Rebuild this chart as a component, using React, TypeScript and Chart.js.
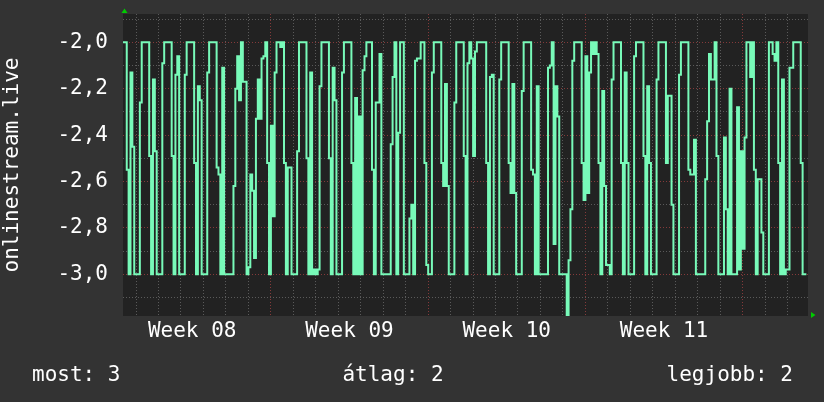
import React, { useEffect, useRef } from "react";
import { Chart, registerables } from "chart.js";

Chart.register(...registerables);

// ---- data ----
const SERIES_NAME = "onlinestream.live";
const START_DAY = 0.42; // first sample (days, week 08 starts at day 0)
const STEP_DAY = 1 / 12; // 2-hour samples
const X_MIN = 0.42;
const X_MAX = 30.91;
const Y_MIN = -3.18;
const Y_MAX = -1.878;
const WEEK_LABELS = ["Week 08", "Week 09", "Week 10", "Week 11"];
const WEEK_LABEL_DAYS = [3.5, 10.5, 17.5, 24.5];
const WEEK_START_DAYS = [7, 14, 21, 28];
const Y_GRID = [-3.1, -3.0, -2.9, -2.8, -2.7, -2.6, -2.5, -2.4, -2.3, -2.2, -2.1, -2.0, -1.9];
const Y_LABEL_VALUES = [-3.0, -2.8, -2.6, -2.4, -2.2, -2.0];
const LEGEND_ITEMS = ["most: 3", "átlag: 2", "legjobb: 2"];

const VALUES = [
  -2.0, -2.0, -2.0, -2.55, -3.0, -2.13, -2.45, -3.0, -3.0, -3.0,
  -2.26, -2.0, -2.0, -2.0, -2.0, -2.49, -3.0, -2.16, -2.47, -3.0,
  -3.0, -3.0, -2.09, -2.0, -2.0, -2.0, -2.0, -2.49, -3.0, -2.14,
  -2.06, -3.0, -3.0, -3.0, -2.14, -2.0, -2.0, -2.0, -2.0, -2.52,
  -3.0, -2.19, -2.25, -3.0, -3.0, -3.0, -2.13, -2.0, -2.0, -2.0,
  -2.0, -2.54, -2.57, -3.0, -2.11, -3.0, -3.0, -3.0, -3.0, -3.0,
  -2.62, -2.2, -2.06, -2.25, -2.0, -2.17, -2.17, -3.0, -2.97, -2.57,
  -2.64, -2.93, -2.33, -2.16, -2.33, -2.07, -2.06, -2.0, -2.52, -3.0,
  -2.36, -2.75, -2.13, -2.0, -2.0, -2.02, -2.0, -2.52, -3.0, -2.54,
  -2.54, -3.0, -3.0, -3.0, -2.47, -2.0, -2.0, -2.0, -2.0, -2.5,
  -3.0, -2.13, -3.0, -2.98, -3.0, -2.98, -2.19, -2.0, -2.0, -2.0,
  -2.0, -2.5, -3.0, -2.11, -2.25, -3.0, -3.0, -3.0, -2.13, -2.0,
  -2.0, -2.0, -2.0, -2.52, -3.0, -2.24, -3.0, -2.32, -3.0, -2.12,
  -2.06, -2.0,
  -2.0, -2.0, -2.55, -3.0, -2.26, -2.26, -2.05, -3.0,
  -3.0, -3.0, -3.0, -3.0, -2.44, -2.15, -2.0, -3.0, -2.39, -2.0,
  -2.0, -3.0, -3.0, -3.0, -2.76, -2.7, -3.0, -2.08, -2.07, -2.07,
  -2.0, -2.0, -2.52, -2.96, -3.0, -3.0, -2.13, -2.0, -2.0, -2.0,
  -2.0, -2.52, -2.62, -2.18, -2.62, -3.0, -3.0, -3.0, -2.26, -2.0,
  -2.0, -2.0, -2.0, -2.49, -3.0, -2.09, -2.0, -2.07, -2.49, -2.04,
  -2.0, -2.0, -2.0, -2.0, -2.0, -2.52, -3.0, -2.15, -2.14, -3.0,
  -3.0, -3.0, -2.16, -2.0, -2.0, -2.0, -2.0, -2.52, -2.65, -2.18,
  -2.65, -3.0, -3.0, -3.0, -2.21, -2.0, -2.0, -2.0, -2.0, -2.55,
  -2.57, -3.0, -2.19, -3.0, -3.0, -3.0, -3.0, -3.0, -2.11, -2.1,
  -2.0, -2.87, -2.19, -2.32, -3.0, -3.0, -3.0, -3.0, -3.2, -2.94,
  -2.72, -2.08, -2.0, -2.0, -2.0, -2.0, -2.52, -2.68, -2.06, -2.65,
  -2.13, -2.0, -2.05, -2.0, -2.05, -2.52, -3.0, -2.21, -2.62, -2.96,
  -2.96, -3.0, -2.16, -2.0, -2.0,
  -2.0, -2.0, -2.52, -3.0, -2.13,
  -2.52, -3.0, -3.0, -3.0, -2.06, -2.0, -2.0, -2.0, -2.0, -2.49,
  -3.0, -2.19, -2.52, -3.0, -3.0, -3.0, -2.16, -2.0, -2.0, -2.0,
  -2.0, -2.52, -2.23, -2.23, -2.7, -3.0, -3.0, -3.0, -2.14, -2.0,
  -2.0, -2.0, -2.0, -2.55, -2.57, -2.57, -2.42, -3.0, -3.0, -3.0,
  -3.0, -3.0, -2.59, -2.34, -2.05, -2.16, -2.16, -2.0, -2.49, -3.0,
  -3.0, -3.0, -2.41, -2.72, -3.0, -2.2, -3.0, -3.0, -3.0, -2.28,
  -2.98, -2.47, -2.89, -2.41, -2.0, -2.0, -2.15, -2.0, -2.55, -3.0,
  -2.59, -2.59, -2.82, -3.0, -3.0, -3.0, -2.0, -2.0, -2.05, -2.08,
  -2.0, -2.52, -3.0, -2.16, -3.0, -2.98, -2.98, -2.11, -2.11, -2.0,
  -2.0, -2.0, -2.0, -2.52, -3.0, -3.0,
];

// ---- styles ----
const FONT = { family: '"DejaVu Sans Mono", monospace', size: 21 };
const TEXT = "#ffffff";
const LINE = "#78fab9";
const GRID_GRAY = "#5a5a5a";
const GRID_RED = "#843a3a";
const PLOT_BG = "#222222";
const PAGE_BG = "#333333";
const ARROW = "#00cc00";

const isClose = (a: number, b: number) => Math.abs(a - b) < 1e-6;

const decorPlugin = {
  id: "decor",
  beforeDraw(chart: any) {
    const { ctx, chartArea } = chart;
    ctx.save();
    ctx.fillStyle = PAGE_BG;
    ctx.fillRect(0, 0, chart.width, chart.height);
    ctx.fillStyle = PLOT_BG;
    ctx.fillRect(chartArea.left, chartArea.top, chartArea.right - chartArea.left, chartArea.bottom - chartArea.top);
    ctx.restore();
  },
  afterDraw(chart: any) {
    const { ctx, chartArea } = chart;
    ctx.save();
    // arrows
    ctx.fillStyle = ARROW;
    const ax = chartArea.left + 1.5;
    ctx.beginPath();
    ctx.moveTo(ax - 3, chartArea.top - 1);
    ctx.lineTo(ax + 3, chartArea.top - 1);
    ctx.lineTo(ax, chartArea.top - 5.5);
    ctx.closePath();
    ctx.fill();
    const ay = chartArea.bottom - 1;
    ctx.beginPath();
    ctx.moveTo(chartArea.right + 3, ay - 3);
    ctx.lineTo(chartArea.right + 3, ay + 3);
    ctx.lineTo(chartArea.right + 7.5, ay);
    ctx.closePath();
    ctx.fill();
    // legend line
    ctx.fillStyle = TEXT;
    ctx.font = `${FONT.size}px ${FONT.family}`;
    ctx.textBaseline = "alphabetic";
    const by = 381;
    ctx.textAlign = "left";
    ctx.fillText(LEGEND_ITEMS[0], 32, by);
    ctx.textAlign = "center";
    ctx.fillText(LEGEND_ITEMS[1], 393, by);
    ctx.textAlign = "right";
    ctx.fillText(LEGEND_ITEMS[2], 793, by);
    ctx.restore();
  },
};

const zeroPad = (s: any) => {
  s.paddingTop = 0;
  s.paddingBottom = 0;
  s.paddingLeft = 0;
  s.paddingRight = 0;
};

export default function App() {
  const ref = useRef<HTMLCanvasElement>(null);

  useEffect(() => {
    const canvas = ref.current;
    if (!canvas) return;
    const points = VALUES.map((v, i) => ({ x: START_DAY + i * STEP_DAY, y: v }));
    const dayGrid: number[] = [];
    for (let d = Math.ceil(X_MIN); d <= Math.floor(X_MAX); d++) dayGrid.push(d);
    const xTickValues = [...dayGrid, ...WEEK_LABEL_DAYS].sort((a, b) => a - b);

    const chart = new Chart(canvas, {
      type: "line",
      data: {
        datasets: [
          {
            label: SERIES_NAME,
            data: points,
            borderColor: LINE,
            borderWidth: 2,
            pointRadius: 0,
            stepped: "after",
            fill: false,
            tension: 0,
          },
        ],
      },
      options: {
        animation: false,
        responsive: false,
        devicePixelRatio: 1,
        events: [],
        layout: { padding: { top: 14, right: 16, left: 0, bottom: 0 } },
        plugins: { legend: { display: false }, tooltip: { enabled: false }, title: { display: false } },
        scales: {
          x: {
            type: "linear",
            min: X_MIN,
            max: X_MAX,
            afterBuildTicks: (s: any) => {
              s.ticks = xTickValues.map((v) => ({ value: v }));
            },
            afterFit: (s: any) => {
              s.height = 86;
              zeroPad(s);
            },
            ticks: {
              autoSkip: false,
              maxRotation: 0,
              minRotation: 0,
              padding: 3,
              color: TEXT,
              font: FONT,
              callback: (v: any) => {
                const idx = WEEK_LABEL_DAYS.findIndex((d) => isClose(d, Number(v)));
                return idx >= 0 ? WEEK_LABELS[idx] : "";
              },
            },
            grid: {
              drawTicks: false,
              lineWidth: 1,
              color: (c: any) => {
                const v = c.tick ? c.tick.value : NaN;
                if (WEEK_LABEL_DAYS.some((d) => isClose(d, v))) return "rgba(0,0,0,0)";
                if (WEEK_START_DAYS.some((d) => isClose(d, v))) return GRID_RED;
                return GRID_GRAY;
              },
            },
            border: { display: false, dash: [1, 2] },
          },
          y: {
            min: Y_MIN,
            max: Y_MAX,
            afterBuildTicks: (s: any) => {
              s.ticks = Y_GRID.map((v) => ({ value: v }));
            },
            afterFit: (s: any) => {
              s.width = 123;
              zeroPad(s);
            },
            ticks: {
              autoSkip: false,
              padding: 15,
              color: TEXT,
              font: FONT,
              callback: (v: any) => {
                const n = Number(v);
                return Y_LABEL_VALUES.some((d) => isClose(d, n)) ? n.toFixed(1).replace(".", ",") : "";
              },
            },
            grid: {
              drawTicks: false,
              lineWidth: 1,
              color: (c: any) => {
                const v = c.tick ? c.tick.value : NaN;
                return Y_LABEL_VALUES.some((d) => isClose(d, v)) ? GRID_RED : GRID_GRAY;
              },
            },
            border: { display: false, dash: [1, 2] },
            title: {
              display: true,
              text: SERIES_NAME,
              color: TEXT,
              font: FONT,
              padding: 0,
            },
          },
        },
      },
      plugins: [decorPlugin],
    } as any);
    return () => chart.destroy();
  }, []);

  return (
    <div style={{ position: "fixed", left: 0, top: 0, width: 824, height: 402, background: PAGE_BG }}>
      <canvas ref={ref} width={824} height={402} style={{ display: "block", width: 824, height: 402 }} />
    </div>
  );
}
